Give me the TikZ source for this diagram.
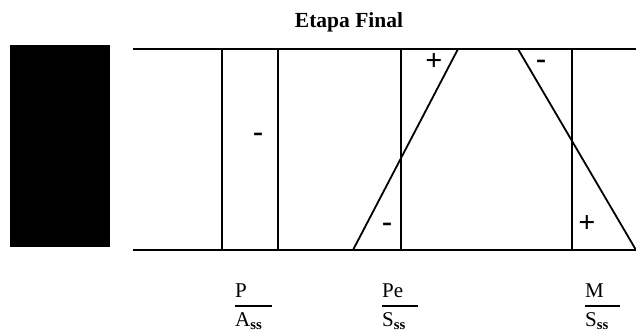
\documentclass[tikz,border=0pt]{standalone}
\usepackage{fontspec}
\setmainfont{Liberation Serif}
\begin{document}
\begin{tikzpicture}[x=1pt,y=-1pt,
  ln/.style={line width=1.8pt},
  sign/.style={font=\fontsize{30}{32}\selectfont\bfseries, inner sep=0pt},
  fnum/.style={font=\fontsize{21}{23}\selectfont, inner sep=0pt, anchor=base west},
  fbar/.style={line width=1.6pt}]
\useasboundingbox (0,0) rectangle (636,332);
% black block
\fill (10,45) rectangle (110,247);
% title
\node[font=\fontsize{21.5}{24}\selectfont\bfseries, inner sep=0pt] (title) at (349,22) {Etapa Final};
% horizontal lines
\coordinate (tl) at (133,49); \coordinate (tr) at (636,49);
\coordinate (bl) at (133,250); \coordinate (br) at (636,250);
\draw[ln] (tl) -- (tr);
\draw[ln] (bl) -- (br);
% verticals
\foreach \x/\n in {222/a,278/b,401/c,572/d}{
  \coordinate (\n t) at (\x,49); \coordinate (\n b) at (\x,250);
  \draw[ln] (\n t) -- (\n b);
}
% diagonals
\coordinate (d1b) at (353,250); \coordinate (d1t) at (458,49);
\coordinate (d2t) at (518,49); \coordinate (d2b) at (636,250);
\draw[ln] (d1b) -- (d1t);
\draw[ln] (d2t) -- (d2b);
% signs
\node[sign] (s1) at (258,137) {-};
\node[sign] (s2) at (434,62) {+};
\node[sign] (s3) at (541,64) {-};
\node[sign] (s4) at (387,227) {-};
\node[sign] (s5) at (587,224) {+};
% fractions
\foreach \n/\num/\den/\bl/\br in {
   f1/P/A/235/272,
   f2/Pe/S/382/418,
   f3/M/S/585/620}{
  \node[fnum] (\n n) at (\bl,297) {\num};
  \coordinate (\n l) at (\bl,306); \coordinate (\n r) at (\br,306);
  \draw[fbar] (\n l) -- (\n r);
  \node[fnum] (\n d) at (\bl,326) {\den\textsubscript{\bfseries ss}};
}
\end{tikzpicture}
\end{document}
